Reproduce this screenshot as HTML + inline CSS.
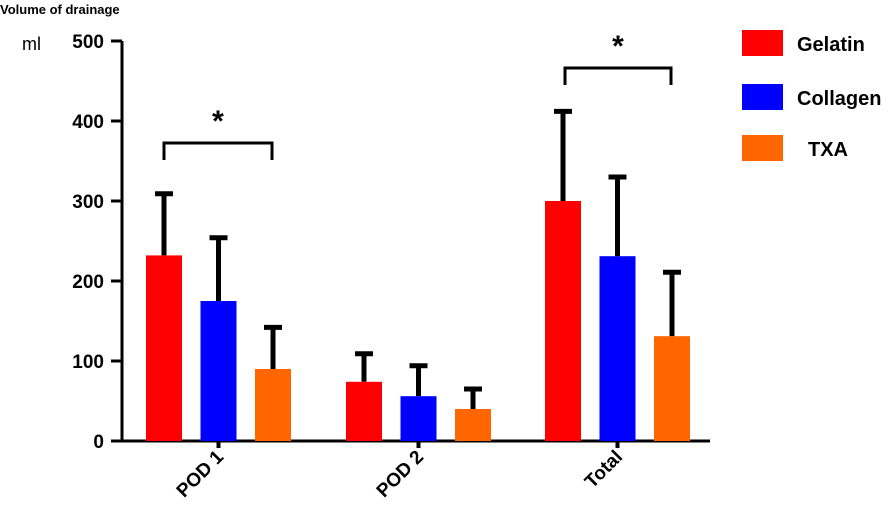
<!DOCTYPE html>
<html><head><meta charset="utf-8"><style>
html,body{margin:0;padding:0;background:#fff;}
svg{display:block;font-family:"Liberation Sans",Arial,sans-serif;}
</style></head><body>
<svg id="chart" width="896" height="520"></svg>
<script>
const categories = ["POD 1","POD 2","Total"];
const seriesNames = ["Gelatin","Collagen","TXA"];
const gelatinValues = [232, 74, 300];
const collagenValues = [175, 56, 231];
const txaValues = [90, 40, 131];
const gelatinErr = [77, 35, 112];
const collagenErr = [79, 38, 99];
const txaErr = [52, 25, 80];
const yTicks = [0,100,200,300,400,500];

const colors = ["#ff0000","#0000ff","#ff6600"];
const values = [gelatinValues, collagenValues, txaValues];
const errs = [gelatinErr, collagenErr, txaErr];
const NS = "http://www.w3.org/2000/svg";
const svg = document.getElementById("chart");
function y(v){ return 441 - v*0.8; }
const groupStart = [146, 346, 545];
const barW = 36, step = 54.5;
function x(ci, si){ return groupStart[ci] + si*step; }
function mk(tag, attrs, parent){ const e=document.createElementNS(NS,tag); for(const k in attrs) e.setAttribute(k,attrs[k]); (parent||svg).appendChild(e); return e; }

let t = mk("text",{x:0,y:14,"font-size":13,"font-weight":"bold",fill:"#000"}); t.textContent="Volume of drainage";


t = mk("text",{x:22,y:50,"font-size":18,fill:"#000"}); t.textContent="ml";



let a = mk("line",{x1:122,y1:41,x2:122,y2:442,stroke:"#000","stroke-width":3});


a = mk("line",{x1:121,y1:441,x2:710,y2:441,stroke:"#000","stroke-width":3});


yTicks.forEach(v=>{
  const l = mk("line",{x1:111,y1:y(v),x2:122,y2:y(v),stroke:"#000","stroke-width":3});
  
  
  const tx = mk("text",{x:104,y:y(v)+7,"font-size":19,"font-weight":"bold","text-anchor":"end"});
  tx.textContent = v;
  
  
});
categories.forEach((c,ci)=>{
  const cx = x(ci,1)+barW/2;
  const l = mk("line",{x1:cx,y1:441,x2:cx,y2:448,stroke:"#000","stroke-width":4});
  
  
  const tx = mk("text",{x:cx+6,y:458,"font-size":19,"font-weight":"bold","text-anchor":"end",transform:`rotate(-45 ${cx+6} 458)`});
  tx.textContent = c;
  
  
});
values.forEach((vals,si)=>{
  vals.forEach((v,ci)=>{
    const bx = x(ci,si), cx = bx+barW/2;
    const top = y(v+errs[si][ci]);
    const el = mk("line",{x1:cx,y1:y(v),x2:cx,y2:top,stroke:"#000","stroke-width":5});
    
    
    const cap = mk("line",{x1:cx-9,y1:top,x2:cx+9,y2:top,stroke:"#000","stroke-width":5});
    
    
    const r = mk("rect",{x:bx,y:y(v),width:barW,height:441-y(v),fill:colors[si]});
    
    
  });
});
[[0,164,272,143],[2,565,671,68]].forEach(b=>{
  const p = mk("path",{d:`M${b[1]} ${b[3]+17} V${b[3]} H${b[2]} V${b[3]+17}`,fill:"none",stroke:"#000","stroke-width":3});
  
  
  const s = mk("text",{x:(b[1]+b[2])/2,y:b[3]-12,"font-size":30,"font-weight":"bold","text-anchor":"middle"});
  s.textContent="*";
  
  
});
const legY = [30,84,135];
const legX = [797,797,808];
seriesNames.forEach((n,i)=>{
  const r = mk("rect",{x:742,y:legY[i],width:41,height:26,fill:colors[i]});
  
  
  const tx = mk("text",{x:legX[i],y:legY[i]+21,"font-size":20,"font-weight":"bold"});
  tx.textContent = n;
  
  
});
</script>
</body></html>
